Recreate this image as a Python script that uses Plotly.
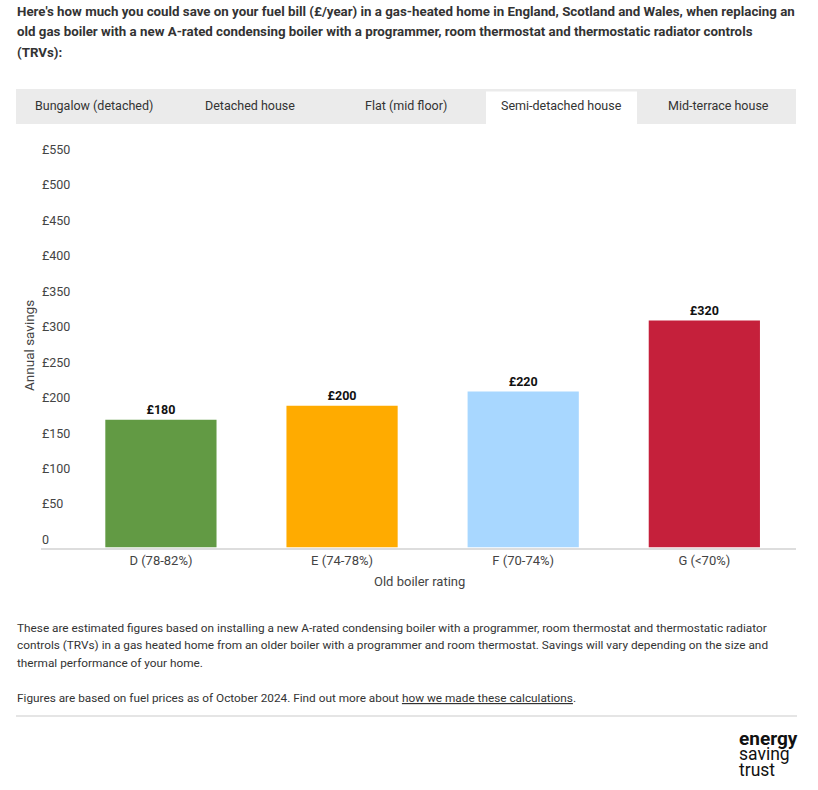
import plotly.graph_objects as go

W, H = 818, 790


def px(x):
    return x / W


def py(y):
    return 1 - y / H


# ---- data ----
ratings = ["D (78-82%)", "E (74-78%)", "F (70-74%)", "G (<70%)"]
savings = [180, 200, 220, 320]
bar_labels = ["£180", "£200", "£220", "£320"]
bar_colors = ["#629a44", "#ffab00", "#a8d7ff", "#c5203b"]
y_tick_vals = [0, 50, 100, 150, 200, 250, 300, 350, 400, 450, 500, 550]
y_tick_text = ["0", "£50", "£100", "£150", "£200", "£250", "£300", "£350",
               "£400", "£450", "£500", "£550"]
tabs = ["Bungalow (detached)", "Detached house", "Flat (mid floor)",
        "Semi-detached house", "Mid-terrace house"]
active_tab = "Semi-detached house"
header_lines = [
    "Here's how much you could save on your fuel bill (£/year) in a gas-heated home in England, Scotland and Wales, when replacing an",
    "old gas boiler with a new A-rated condensing boiler with a programmer, room thermostat and thermostatic radiator controls",
    "(TRVs):",
]
note_lines = [
    "These are estimated figures based on installing a new A-rated condensing boiler with a programmer, room thermostat and thermostatic radiator",
    "controls (TRVs) in a gas heated home from an older boiler with a programmer and room thermostat. Savings will vary depending on the size and",
    "thermal performance of your home.",
]
fig_note = "Figures are based on fuel prices as of October 2024. Find out more about <u>how we made these calculations</u>."
logo_lines = ["<b>energy</b>", "saving", "trust"]

FONT = "Roboto, sans-serif"
TXT = "#333333"

fig = go.Figure(
    go.Bar(
        x=ratings,
        y=savings,
        text=bar_labels,
        width=0.614,
        marker=dict(color=bar_colors, line=dict(width=0)),
        texttemplate="<b>%{text}</b>",
        textposition="outside",
        textfont=dict(family=FONT, size=12.5, color="#111111"),
        cliponaxis=False,
        hoverinfo="skip",
    )
)

annotations = []
shapes = []

# header paragraph
for i, line in enumerate(header_lines):
    annotations.append(dict(
        text=f"<b>{line}</b>", x=px(14.8), y=py(12 + 20 * i), xref="paper", yref="paper",
        xanchor="left", yanchor="middle", showarrow=False,
        font=dict(family=FONT, size=13.3, color=TXT)))

# tab bar
shapes.append(dict(type="rect", xref="paper", yref="paper", x0=px(16), x1=px(796),
                   y0=py(124), y1=py(89), fillcolor="#ebebeb", line=dict(width=0), layer="below"))
shapes.append(dict(type="rect", xref="paper", yref="paper", x0=px(486), x1=px(637),
                   y0=py(124), y1=py(91.5), fillcolor="#ffffff", line=dict(width=0), layer="below"))
tab_centers = [94, 250, 406, 561, 718]
for name, cx in zip(tabs, tab_centers):
    annotations.append(dict(
        text=name, x=px(cx), y=py(105.5), xref="paper", yref="paper",
        xanchor="center", yanchor="middle", showarrow=False,
        font=dict(family=FONT, size=12.5, color=TXT)))

# y-axis title
annotations.append(dict(
    text="Annual savings", x=px(29), y=py(345), xref="paper", yref="paper",
    xanchor="center", yanchor="middle", textangle=-90, showarrow=False,
    font=dict(family=FONT, size=13.5, color="#444444")))

# x-axis title
annotations.append(dict(
    text="Old boiler rating", x=px(419), y=py(581), xref="paper", yref="paper",
    xanchor="center", yanchor="middle", showarrow=False,
    font=dict(family=FONT, size=13, color="#444444")))

# notes
for i, line in enumerate(note_lines):
    annotations.append(dict(
        text=line, x=px(14.5), y=py(628 + 17.3 * i), xref="paper", yref="paper",
        xanchor="left", yanchor="middle", showarrow=False,
        font=dict(family=FONT, size=11.8, color=TXT)))
annotations.append(dict(
    text=fig_note, x=px(14.5), y=py(698), xref="paper", yref="paper",
    xanchor="left", yanchor="middle", showarrow=False,
    font=dict(family=FONT, size=11.8, color=TXT)))

# separator
shapes.append(dict(type="line", xref="paper", yref="paper", x0=px(16), x1=px(797),
                   y0=py(716), y1=py(716), line=dict(color="#dddddd", width=1.5)))

# logo
logo_y = [738, 754, 769.5]
logo_size = [19, 17.5, 17.5]
for line, ly, ls in zip(logo_lines, logo_y, logo_size):
    annotations.append(dict(
        text=line, x=px(737), y=py(ly), xref="paper", yref="paper",
        xanchor="left", yanchor="middle", showarrow=False,
        font=dict(family=FONT, size=ls, color="#111111")))

fig.update_layout(
    width=W, height=H,
    margin=dict(l=0, r=0, t=0, b=0),
    paper_bgcolor="white", plot_bgcolor="white",
    showlegend=False,
    font=dict(family=FONT, color="#444444"),
    annotations=annotations,
    shapes=shapes,
    xaxis=dict(
        domain=[px(41), px(796)],
        range=[-0.662, 3.506],
        showgrid=False, zeroline=False,
        showline=True, linecolor="#dddddd", linewidth=2,
        ticks="", tickfont=dict(family=FONT, size=13, color="#444444"),
        fixedrange=True,
    ),
    yaxis=dict(
        domain=[py(547.5), py(140)],
        range=[0, 574.7],
        tickmode="array", tickvals=y_tick_vals, ticktext=y_tick_text,
        ticklabelposition="inside", ticklabelshift=-8, ticklabelstandoff=-2,
        ticklabeloverflow="allow",
        showgrid=False, zeroline=False, showline=False, ticks="",
        tickfont=dict(family=FONT, size=12.5, color="#444444"),
        fixedrange=True,
    ),
)

fig.write_html("out.html", config={"displayModeBar": False},
               post_script="document.body.style.margin='0px';document.body.style.overflow='hidden';")
